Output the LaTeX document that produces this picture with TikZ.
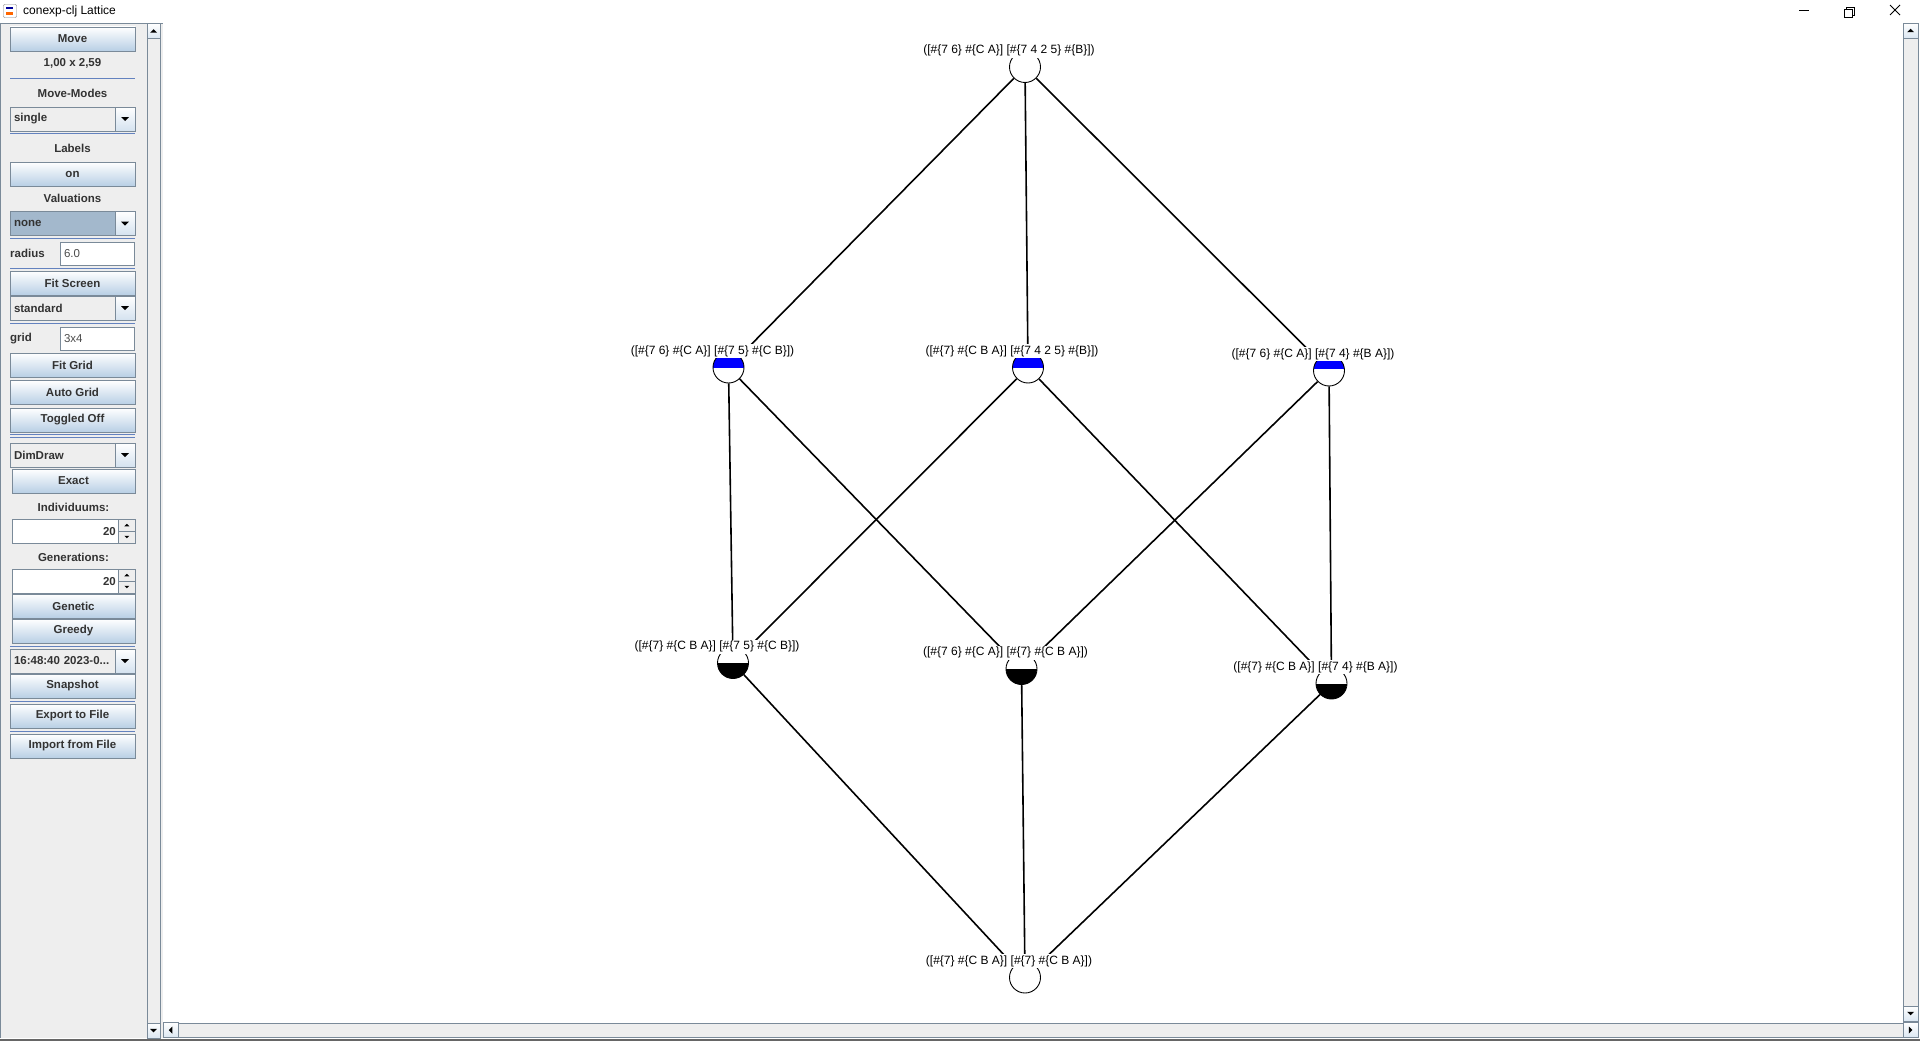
\documentclass[tikz,border=0pt]{standalone}
\usepackage{fontspec}
\setmainfont{Liberation Sans}
\usetikzlibrary{positioning}

\definecolor{panelgray}{RGB}{238,238,238}
\definecolor{edgegray}{RGB}{122,138,153}
\definecolor{btnblue}{RGB}{184,207,229}
\definecolor{sepblue}{RGB}{99,130,191}
\definecolor{selblue}{RGB}{163,184,204}
\definecolor{paneltext}{RGB}{51,51,51}
\definecolor{capblue}{RGB}{0,0,255}

\newcommand\panelfont{\bfseries\fontsize{11.5}{12}\selectfont}
\newcommand\downtri[2][4]{\fill (#2) ++(-#1,-#1/2) -- ++(2*#1,0) -- ++(-#1,#1) -- cycle;}
\newcommand\uptri[2][4]{\fill (#2) ++(-#1,#1/2) -- ++(2*#1,0) -- ++(-#1,-#1) -- cycle;}
\newcommand\righttri[2][4]{\fill (#2) ++(-#1/2,-#1) -- ++(0,2*#1) -- ++(#1,-#1) -- cycle;}
\newcommand\lefttri[2][4]{\fill (#2) ++(#1/2,-#1) -- ++(0,2*#1) -- ++(-#1,-#1) -- cycle;}

\tikzset{
  btn/.style={draw=edgegray, top color=white, bottom color=btnblue, minimum width=125pt,
    minimum height=24pt, inner sep=0pt, font=\panelfont, text=paneltext},
  combo/.style={draw=edgegray, fill=panelgray, minimum height=24pt, text width=117pt,
    inner xsep=4pt, inner ysep=0pt, align=left, font=\panelfont, text=paneltext},
  arrbtn/.style={draw=edgegray, top color=white, bottom color=btnblue!60, minimum width=20pt,
    minimum height=24pt, inner sep=0pt},
  field/.style={draw=edgegray, fill=white, minimum height=23pt, text width=66pt, inner xsep=4pt,
    inner ysep=0pt, align=left, font=\fontsize{11.5}{12}\selectfont, text=black!70},
  spin/.style={draw=edgegray, fill=white, minimum height=24pt, minimum width=106pt, inner sep=0pt},
  spinbtn/.style={draw=edgegray, fill=panelgray, minimum width=17pt, minimum height=12pt, inner sep=0pt},
  ptxt/.style={font=\panelfont, text=paneltext, inner sep=0pt},
  sepline/.style={sepblue, line width=0.8pt},
  sbtn/.style={draw=edgegray, top color=white, bottom color=btnblue!50, minimum size=15pt, inner sep=0pt},
  concept/.style={circle, draw, fill=white, minimum size=31pt, inner sep=0pt, line width=0.9pt},
  bluecap/.style={path picture={\fill[capblue] (path picture bounding box.north west)
    rectangle ([yshift=-#1]path picture bounding box.north east);}},
  blackbase/.style={path picture={\fill[black] (path picture bounding box.south west)
    rectangle ([yshift=#1]path picture bounding box.south east);}},
  conlbl/.style={font=\fontsize{12}{12}\selectfont, fill=white, inner xsep=1pt, inner ysep=1.4pt,
    xshift=-16pt},
  link/.style={line width=1.6pt},
}

\begin{document}
\begin{tikzpicture}[x=1pt,y=-1pt]
\useasboundingbox (0,0) rectangle (1920,1041);
\fill[white] (0,0) rectangle (1920,1041);

% title bar
\node[draw=gray, fill=white, rounded corners=1pt, minimum size=13pt, inner sep=0pt] (icon) at (10,11) {};
\fill[orange!80!red] ([shift={(-4,1)}]icon.center) rectangle ([shift={(3,4)}]icon.center);
\fill[blue!60!black] ([shift={(-4,-4)}]icon.center) rectangle ([shift={(3,-2)}]icon.center);
\node[anchor=west, font=\fontsize{12}{14}\selectfont, inner sep=0pt] (title) at (23,11.5) {conexp-clj Lattice};
\draw[line width=0.8pt] (1799,10) -- (1809,10);
\draw[line width=0.8pt] (1844,9) rectangle (1852,17);
\draw[line width=0.8pt] (1846,9) -- (1846,7) -- (1854,7) -- (1854,15) -- (1852,15);
\draw[line width=0.8pt] (1890,5) -- (1900,15) (1900,5) -- (1890,15);

% left panel
\fill[panelgray] (0,23) rectangle (163,1038);
\draw[edgegray] (0.5,23) -- (0.5,1038) (0,23.5) -- (163,23.5);
\node[btn] (move) at (72.5,39) {Move};
\node[ptxt] (ratio) at (72.5,63) {1,00 x 2,59};
\draw[sepline] (10,78) -- (135,78);
\node[ptxt] (modes) at (72.5,93) {Move-Modes};
\node[combo] (single) at (72.5,119) {single};
\node[arrbtn, anchor=east] (single-a) at (single.east) {};
\downtri{single-a}
\draw[sepline] (10,133) -- (135,133);
\node[ptxt] (labels) at (72.5,148) {Labels};
\node[btn] (on) at (72.5,174) {on};
\node[ptxt] (valuations) at (72.5,198) {Valuations};
\node[combo, fill=selblue] (none) at (72.5,223.5) {none};
\node[arrbtn, anchor=east] (none-a) at (none.east) {};
\downtri{none-a}
\draw[sepline] (10,238.5) -- (135,238.5);
\node[ptxt, anchor=west] (radius) at (10,253.5) {radius};
\node[field] (radius-f) at (97,253.5) {6.0};
\draw[sepline] (10,268) -- (135,268);
\node[btn] (fitscreen) at (72.5,283) {Fit Screen};
\node[combo] (standard) at (72.5,308) {standard};
\node[arrbtn, anchor=east] (standard-a) at (standard.east) {};
\downtri{standard-a}
\draw[sepline] (10,323) -- (135,323);
\node[ptxt, anchor=west] (grid) at (10,338.5) {grid};
\node[field] (grid-f) at (97,338.5) {3x4};
\node[btn] (fitgrid) at (72.5,365) {Fit Grid};
\node[btn] (autogrid) at (72.5,392.5) {Auto Grid};
\node[btn] (toggled) at (72.5,420) {Toggled Off};
\draw[sepline] (10,434) -- (135,434) (10,437) -- (135,437);
\node[combo] (dimdraw) at (72.5,455) {DimDraw};
\node[arrbtn, anchor=east] (dimdraw-a) at (dimdraw.east) {};
\downtri{dimdraw-a}
\node[btn, minimum width=123pt] (exact) at (73.5,481) {Exact};
\node[ptxt] (indiv) at (73.5,507) {Individuums:};
\node[spin] (indiv-s) at (65,531) {};
\node[ptxt, anchor=east] (indiv-n) at (116,531.5) {20};
\node[spinbtn, anchor=north west] (indiv-up) at (indiv-s.north east) {};
\node[spinbtn, anchor=south west] (indiv-dn) at (indiv-s.south east) {};
\uptri[2.5]{indiv-up}
\downtri[2.5]{indiv-dn}
\node[ptxt] (gener) at (73.5,557) {Generations:};
\node[spin] (gener-s) at (65,581) {};
\node[ptxt, anchor=east] (gener-n) at (116,581.5) {20};
\node[spinbtn, anchor=north west] (gener-up) at (gener-s.north east) {};
\node[spinbtn, anchor=south west] (gener-dn) at (gener-s.south east) {};
\uptri[2.5]{gener-up}
\downtri[2.5]{gener-dn}
\node[btn, minimum width=123pt] (genetic) at (73.5,606) {Genetic};
\node[btn, minimum width=123pt] (greedy) at (73.5,631) {Greedy};
\draw[sepline] (10,646) -- (135,646);
\node[combo] (snaptime) at (72.5,661) {16:48:40 2023-0...};
\node[arrbtn, anchor=east] (snaptime-a) at (snaptime.east) {};
\downtri{snaptime-a}
\node[btn] (snapshot) at (72.5,686) {Snapshot};
\draw[sepline] (10,701) -- (135,701);
\node[btn] (export) at (72.5,716) {Export to File};
\draw[sepline] (10,731) -- (135,731);
\node[btn] (import) at (72.5,746) {Import from File};

% scrollbars
\fill[panelgray, draw=edgegray] (147,38) rectangle (160,1023);
\node[sbtn, minimum width=13pt] (lsb-up) at (153.5,31) {};
\node[sbtn, minimum width=13pt] (lsb-dn) at (153.5,1030.5) {};
\uptri[3.5]{lsb-up}
\downtri[3.5]{lsb-dn}
\fill[panelgray, draw=edgegray] (1903,38) rectangle (1918,1006);
\node[sbtn] (rsb-up) at (1910.5,30.5) {};
\node[sbtn] (rsb-dn) at (1910.5,1013.5) {};
\uptri[3.5]{rsb-up}
\downtri[3.5]{rsb-dn}
\fill[panelgray, draw=edgegray] (178,1023) rectangle (1903,1037);
\node[sbtn] (hsb-l) at (170.5,1030) {};
\node[sbtn] (hsb-r) at (1910.5,1030) {};
\lefttri[3.5]{hsb-l}
\righttri[3.5]{hsb-r}
\fill[black!60] (0,1039) rectangle (1920,1041);

% lattice
\node[concept] (top) at (1025,67) {};
\node[concept, bluecap=15.5pt] (ml) at (728.5,367.5) {};
\node[concept, bluecap=15.5pt] (mc) at (1028,367.5) {};
\node[concept, bluecap=14pt] (mr) at (1329,370.5) {};
\node[concept, blackbase=15.5pt] (bl) at (733,663) {};
\node[concept, blackbase=15.5pt] (bc) at (1021.5,669) {};
\node[concept, blackbase=15.5pt] (br) at (1331.5,683.5) {};
\node[concept] (bot) at (1025,977.5) {};

\draw[link] (top) -- (ml);
\draw[link] (top) -- (mc);
\draw[link] (top) -- (mr);
\draw[link] (ml) -- (bl);
\draw[link] (ml) -- (bc);
\draw[link] (mc) -- (bl);
\draw[link] (mc) -- (br);
\draw[link] (mr) -- (bc);
\draw[link] (mr) -- (br);
\draw[link] (bl) -- (bot);
\draw[link] (bc) -- (bot);
\draw[link] (br) -- (bot);

\node[conlbl, above=-7pt of top] (top-l) {([\#\{7 6\} \#\{C A\}] [\#\{7 4 2 5\} \#\{B\}])};
\node[conlbl, above=-7pt of ml] (ml-l) {([\#\{7 6\} \#\{C A\}] [\#\{7 5\} \#\{C B\}])};
\node[conlbl, above=-7pt of mc] (mc-l) {([\#\{7\} \#\{C B A\}] [\#\{7 4 2 5\} \#\{B\}])};
\node[conlbl, above=-7pt of mr] (mr-l) {([\#\{7 6\} \#\{C A\}] [\#\{7 4\} \#\{B A\}])};
\node[conlbl, above=-7pt of bl] (bl-l) {([\#\{7\} \#\{C B A\}] [\#\{7 5\} \#\{C B\}])};
\node[conlbl, above=-7pt of bc] (bc-l) {([\#\{7 6\} \#\{C A\}] [\#\{7\} \#\{C B A\}])};
\node[conlbl, above=-7pt of br] (br-l) {([\#\{7\} \#\{C B A\}] [\#\{7 4\} \#\{B A\}])};
\node[conlbl, above=-7pt of bot] (bot-l) {([\#\{7\} \#\{C B A\}] [\#\{7\} \#\{C B A\}])};
\end{tikzpicture}
\end{document}
